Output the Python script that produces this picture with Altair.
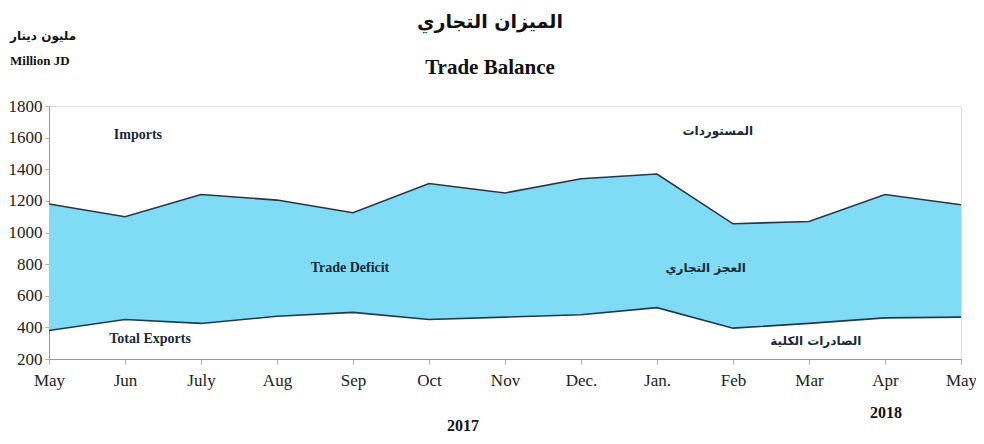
import altair as alt
import pandas as pd

months = ["May", "Jun", "July", "Aug", "Sep", "Oct", "Nov", "Dec.", "Jan.", "Feb", "Mar", "Apr", "May"]
imports = [1180, 1100, 1240, 1205, 1125, 1310, 1250, 1340, 1370, 1055, 1070, 1240, 1175]
exports = [380, 450, 425, 470, 495, 450, 465, 480, 525, 395, 425, 460, 465]

df = pd.DataFrame({"i": list(range(len(months))), "month": months,
                   "imports": imports, "exports": exports})

W, H = 912, 253
serif = "Liberation Serif"
arab = "DejaVu Sans"
line_col = "#24384a"
fill_col = "#7fdcf4"

label_expr = "[" + ",".join("'%s'" % m for m in months) + "][datum.value]"

xscale = alt.Scale(domain=[0, 12], nice=False)
yscale = alt.Scale(domain=[200, 1800], nice=False)
x_axis = alt.Axis(values=list(range(13)), labelExpr=label_expr, title=None)
y_axis = alt.Axis(values=list(range(200, 1801, 200)), title=None, format="d")

base = alt.Chart(df)
area = base.mark_area(color=fill_col, opacity=1).encode(
    x=alt.X("i:Q", scale=xscale, axis=x_axis),
    y=alt.Y("exports:Q", scale=yscale, axis=y_axis),
    y2="imports:Q",
)
l_imp = base.mark_line(color=line_col, strokeWidth=1.6).encode(
    x=alt.X("i:Q", scale=xscale, axis=x_axis),
    y=alt.Y("imports:Q", scale=yscale, axis=y_axis))
l_exp = base.mark_line(color=line_col, strokeWidth=1.6).encode(
    x=alt.X("i:Q", scale=xscale, axis=x_axis),
    y=alt.Y("exports:Q", scale=yscale, axis=y_axis))

ann_en = pd.DataFrame({
    "text": ["Imports", "Trade Deficit", "Total Exports"],
    "x": [1.17, 3.96, 1.33],
    "y": [1617, 775, 327],
})
ann_ar = pd.DataFrame({
    "text": ["المستوردات", "العجز التجاري", "الصادرات الكلية"],
    "x": [8.8, 8.64, 10.09],
    "y": [1642, 775, 314],
})
t_en = alt.Chart(ann_en).mark_text(font=serif, fontSize=14, fontWeight="bold",
                                   color="#1a2838").encode(
    x=alt.X("x:Q", scale=xscale, axis=x_axis),
    y=alt.Y("y:Q", scale=yscale, axis=y_axis), text="text:N")
t_ar = alt.Chart(ann_ar).mark_text(font=arab, fontSize=12, fontWeight="bold",
                                   color="#1a2838").encode(
    x=alt.X("x:Q", scale=xscale, axis=x_axis),
    y=alt.Y("y:Q", scale=yscale, axis=y_axis), text="text:N")

def label(txt, px, py, size, font=serif, weight="bold", align="center"):
    return alt.Chart(pd.DataFrame({"t": [txt]})).mark_text(
        font=font, fontSize=size, fontWeight=weight, align=align,
        baseline="middle", color="#111").encode(
        x=alt.value(px), y=alt.value(py), text="t:N")

extras = [
    label("الميزان التجاري", 441, -84, 19, font=arab),
    label("Trade Balance", 441, -38, 21),
    label("مليون دينار", -39, -70, 12, font=arab, align="left"),
    label("Million JD", -39, -45, 13, align="left"),
    label("2017", 414, 320, 16),
    label("2018", 837, 307, 16),
]

chart = alt.layer(area, l_imp, l_exp, t_en, t_ar, *extras).properties(
    width=W, height=H,
    autosize=alt.AutoSizeParams(type="none"),
    padding={"left": 41, "top": 98, "right": 15, "bottom": 77},
).configure_view(stroke="#bbb", strokeWidth=1.5).configure(
    background="white"
).configure_axis(
    labelOverlap=False, labelFont=serif, labelFontSize=17, labelColor="#222",
    tickColor="#aaa", domainColor="#999", grid=False, labelFlush=False,
).configure_axisX(
    labelPadding=8, tickSize=5,
).configure_axisY(
    labelPadding=3, tickSize=4,
)

chart.save("out.html", embed_options={"renderer": "svg", "actions": False})
